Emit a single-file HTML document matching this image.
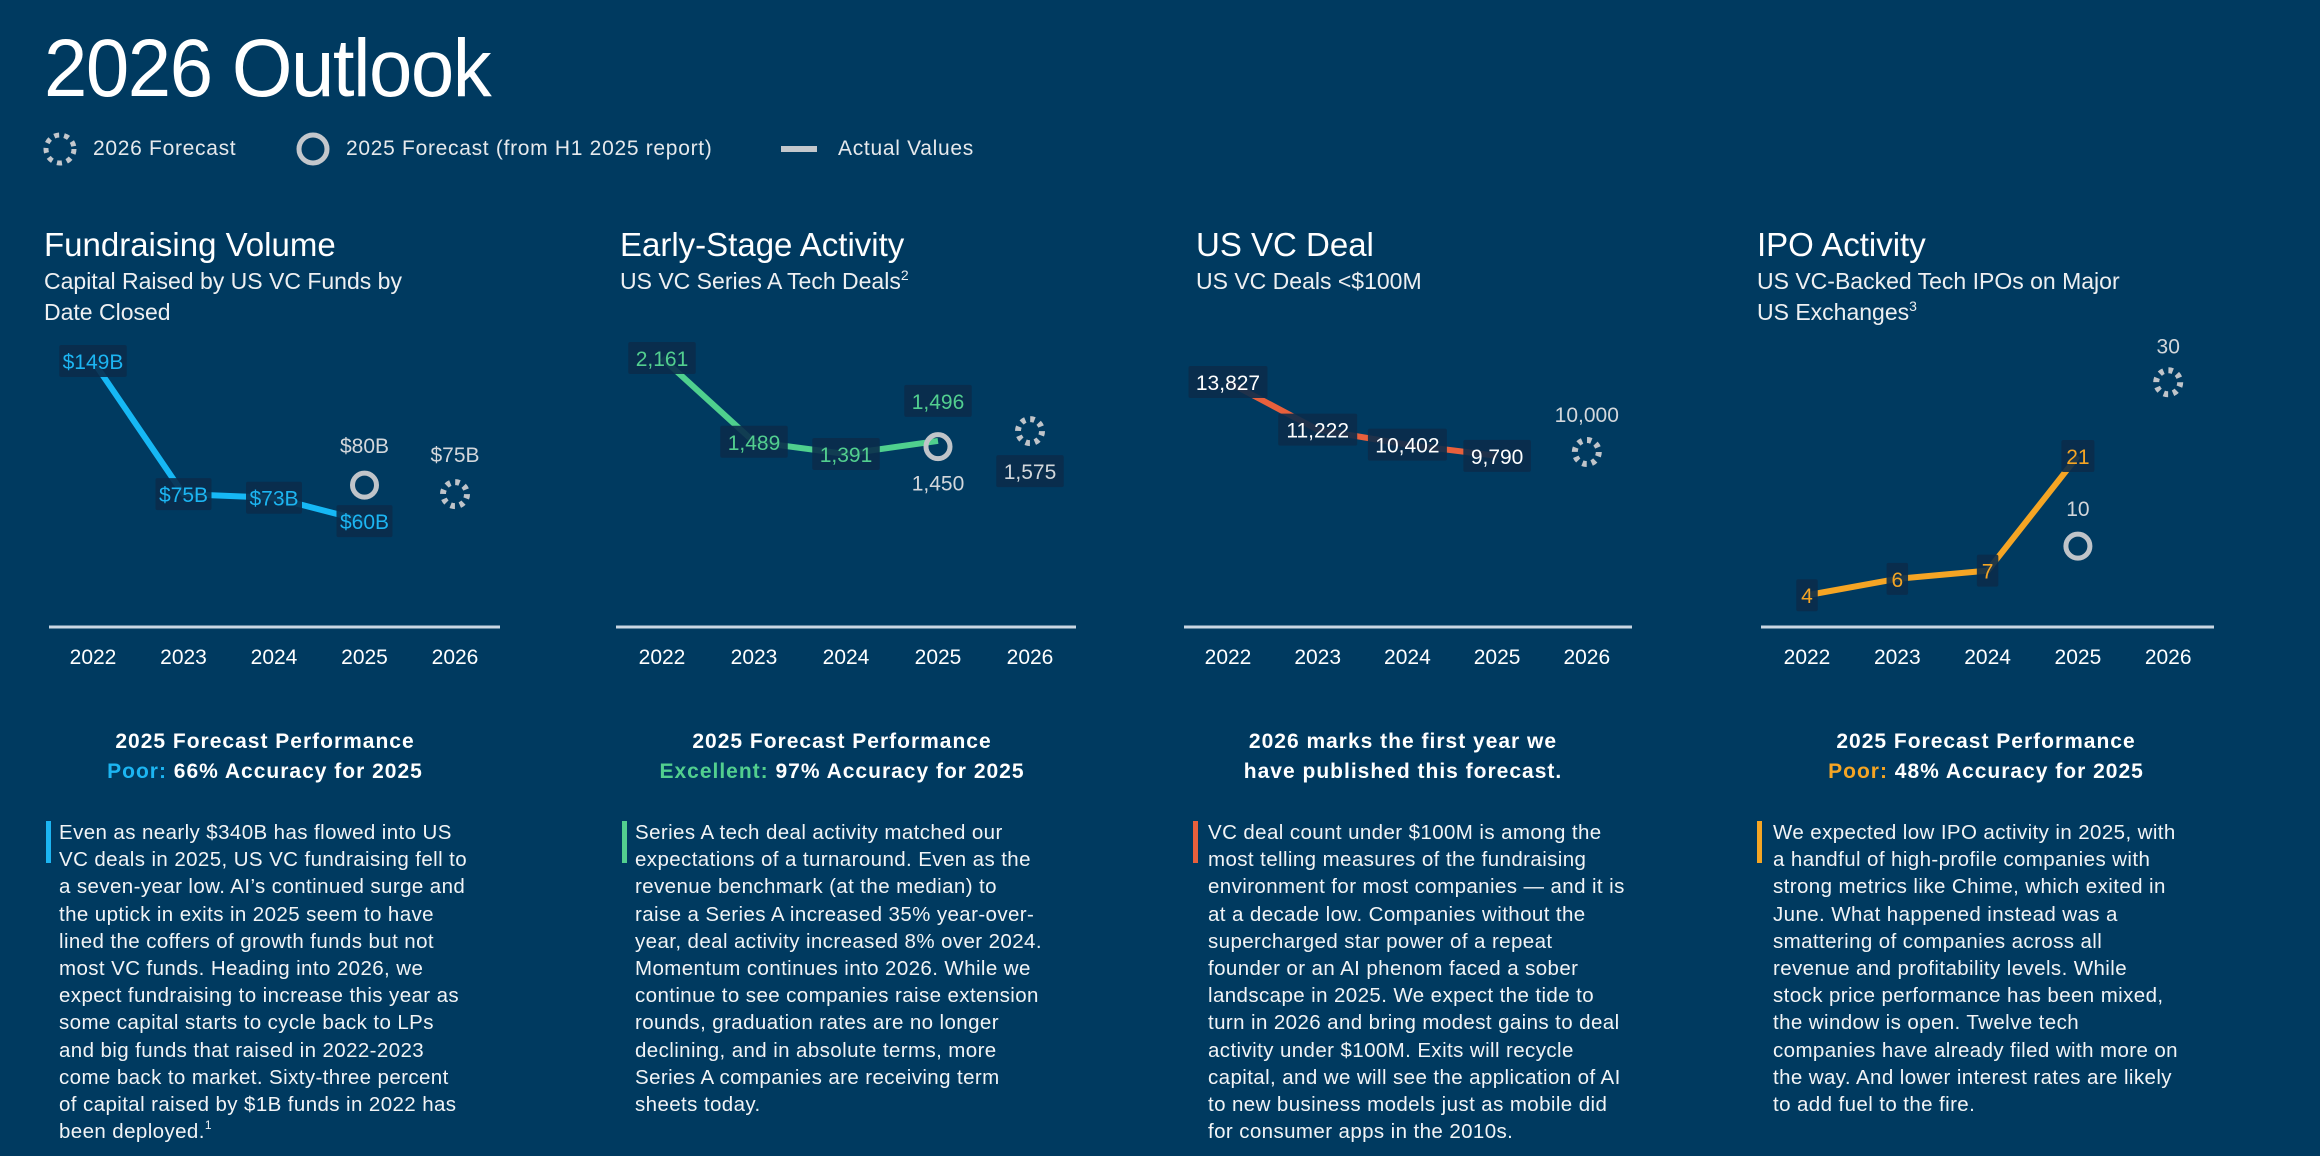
<!DOCTYPE html>
<html><head><meta charset="utf-8">
<style>
html,body{margin:0;padding:0;}
body{width:2320px;height:1156px;background:#003a60;overflow:hidden;position:relative;font-family:"Liberation Sans",sans-serif;color:#fff;}
.abs{position:absolute;white-space:nowrap;}
#title{left:44px;top:22px;font-size:82px;letter-spacing:-1.5px;transform:scaleX(0.95);transform-origin:left top;}
.leg{top:137px;font-size:21px;color:#e6e9ec;letter-spacing:0.7px;}
.ptitle{font-size:33px;top:226px;}
.psub{font-size:23px;line-height:31px;top:266px;color:#eef0f2;}
sup{font-size:14px;line-height:0;vertical-align:0;position:relative;top:-9px;}
.head{top:727px;width:520px;text-align:center;font-weight:bold;font-size:21px;line-height:30px;letter-spacing:1px;}
.para{top:819px;font-size:20.5px;line-height:27.2px;letter-spacing:0.4px;color:#f2f4f6;}
.bar{position:absolute;top:821px;width:5px;height:42px;}
svg{position:absolute;left:0;top:0;}
</style></head><body>
<div class="abs" id="title">2026 Outlook</div>

<svg width="2320" height="1156" id="chart">
  <circle cx="60" cy="149" r="14" fill="none" stroke="#c3c7cc" stroke-width="5" stroke-dasharray="5 5"/>
  <circle cx="313" cy="149" r="14" fill="none" stroke="#c3c7cc" stroke-width="5"/>
  <line x1="781" y1="149" x2="817" y2="149" stroke="#c3c7cc" stroke-width="6"/>
</svg>
<div class="abs leg" style="left:93px">2026 Forecast</div>
<div class="abs leg" style="left:346px">2025 Forecast (from H1 2025 report)</div>
<div class="abs leg" style="left:838px">Actual Values</div>

<div class="abs ptitle" style="left:44px">Fundraising Volume</div>
<div class="abs psub" style="left:44px">Capital Raised by US VC Funds by<br>Date Closed</div>
<div class="abs ptitle" style="left:620px">Early-Stage Activity</div>
<div class="abs psub" style="left:620px">US VC Series A Tech Deals<sup>2</sup></div>
<div class="abs ptitle" style="left:1196px">US VC Deal</div>
<div class="abs psub" style="left:1196px">US VC Deals &lt;$100M</div>
<div class="abs ptitle" style="left:1757px">IPO Activity</div>
<div class="abs psub" style="left:1757px">US VC-Backed Tech IPOs on Major<br>US Exchanges<sup>3</sup></div>

<div class="abs head" style="left:5px">2025 Forecast Performance<br><span style="color:#1cb5f2">Poor:</span> 66% Accuracy for 2025</div>
<div class="abs head" style="left:582px">2025 Forecast Performance<br><span style="color:#52cf8f">Excellent:</span> 97% Accuracy for 2025</div>
<div class="abs head" style="left:1143px">2026 marks the first year we<br>have published this forecast.</div>
<div class="abs head" style="left:1726px">2025 Forecast Performance<br><span style="color:#f5a524">Poor:</span> 48% Accuracy for 2025</div>

<div class="bar" style="left:46px;background:#1cb5f2"></div>
<div class="abs para" style="left:59px">Even as nearly $340B has flowed into US<br>VC deals in 2025, US VC fundraising fell to<br>a seven-year low. AI’s continued surge and<br>the uptick in exits in 2025 seem to have<br>lined the coffers of growth funds but not<br>most VC funds. Heading into 2026, we<br>expect fundraising to increase this year as<br>some capital starts to cycle back to LPs<br>and big funds that raised in 2022-2023<br>come back to market. Sixty-three percent<br>of capital raised by $1B funds in 2022 has<br>been deployed.<sup style="font-size:12px">1</sup></div>
<div class="bar" style="left:622px;background:#52cf8f"></div>
<div class="abs para" style="left:635px">Series A tech deal activity matched our<br>expectations of a turnaround. Even as the<br>revenue benchmark (at the median) to<br>raise a Series A increased 35% year-over-<br>year, deal activity increased 8% over 2024.<br>Momentum continues into 2026. While we<br>continue to see companies raise extension<br>rounds, graduation rates are no longer<br>declining, and in absolute terms, more<br>Series A companies are receiving term<br>sheets today.</div>
<div class="bar" style="left:1193px;background:#e8603c"></div>
<div class="abs para" style="left:1208px">VC deal count under $100M is among the<br>most telling measures of the fundraising<br>environment for most companies — and it is<br>at a decade low. Companies without the<br>supercharged star power of a repeat<br>founder or an AI phenom faced a sober<br>landscape in 2025. We expect the tide to<br>turn in 2026 and bring modest gains to deal<br>activity under $100M. Exits will recycle<br>capital, and we will see the application of AI<br>to new business models just as mobile did<br>for consumer apps in the 2010s.</div>
<div class="bar" style="left:1757px;background:#f5a524"></div>
<div class="abs para" style="left:1773px">We expected low IPO activity in 2025, with<br>a handful of high-profile companies with<br>strong metrics like Chime, which exited in<br>June. What happened instead was a<br>smattering of companies across all<br>revenue and profitability levels. While<br>stock price performance has been mixed,<br>the window is open. Twelve tech<br>companies have already filed with more on<br>the way. And lower interest rates are likely<br>to add fuel to the fire.</div>

<script>
const years = ['2022','2023','2024','2025','2026'];
const fundActual = [149, 75, 73, 60];
const fundLabels = ['$149B','$75B','$73B','$60B'];
const fundFc2025 = 80;
const fundFc2025Label = '$80B';
const fundFc2026 = 75;
const fundFc2026Label = '$75B';

const seriesAActual = [2161, 1489, 1391, 1496];
const seriesALabels = ['2,161','1,489','1,391','1,496'];
const seriesAFc2025 = 1450;
const seriesAFc2025Label = '1,450';
const seriesAFc2026 = 1575;
const seriesAFc2026Label = '1,575';

const dealsActual = [13827, 11222, 10402, 9790];
const dealsLabels = ['13,827','11,222','10,402','9,790'];
const dealsFc2026 = 10000;
const dealsFc2026Label = '10,000';

const ipoActual = [4, 6, 7, 21];
const ipoLabels = ['4','6','7','21'];
const ipoFc2025 = 10;
const ipoFc2025Label = '10';
const ipoFc2026 = 30;
const ipoFc2026Label = '30';

const NS = 'http://www.w3.org/2000/svg';
const svg = document.getElementById('chart');
function mk(tag, attrs, parent){
  const e = document.createElementNS(NS, tag);
  for (const k in attrs) e.setAttribute(k, attrs[k]);
  (parent||svg).appendChild(e);
  return e;
}
function drawChart(cfg){
  const g = mk('g', {});
  
  
  const xs = i => cfg.x0 + i*cfg.step;
  const ys = v => cfg.y0 - (v/cfg.max)*(cfg.y0 - cfg.yTop);
  const ax = mk('line', {x1:cfg.ax1, x2:cfg.ax2, y1:cfg.axisY, y2:cfg.axisY, stroke:'#c9d6e2', 'stroke-width':3}, g);
  
  
  years.forEach((y,i)=>{
    const t = mk('text', {x:xs(i), y:cfg.axisY+37, 'text-anchor':'middle', fill:'#fff', 'font-size':21, 'font-family':'Liberation Sans, sans-serif'}, g);
    t.textContent = y;
    
    
  });
  const pts = cfg.actual.map((v,i)=>xs(i)+','+ys(v)).join(' ');
  const pl = mk('polyline', {points:pts, fill:'none', stroke:cfg.color, 'stroke-width':6, 'stroke-linejoin':'round'}, g);
  
  
  function label(x, y, txt, color, box){
    const w = txt.length*11.5+10;
    if (box){
      const r = mk('rect', {x:x-w/2, y:y-16, width:w, height:32, fill:'#0a2c4b', opacity:0.9, rx:2}, g);
      
      
    }
    const t = mk('text', {x:x, y:y+8, 'text-anchor':'middle', fill:color, 'font-size':21, 'font-family':'Liberation Sans, sans-serif'}, g);
    t.textContent = txt;
    
    
  }
  cfg.actual.forEach((v,i)=>{
    let y = ys(v);
    if (cfg.actualAboveLast && i===cfg.actual.length-1) y -= 40;
    label(xs(i), y, cfg.labels[i], cfg.labelColor, true);
  });
  if (cfg.fc25 !== undefined){
    const c = mk('circle', {cx:xs(3), cy:ys(cfg.fc25), r:12, fill:'none', stroke:'#c0c4c9', 'stroke-width':5}, g);
    
    
    label(xs(3), ys(cfg.fc25)+cfg.fc25Off, cfg.fc25Label, '#d3d7db', cfg.fc25Box);
  }
  const d = mk('circle', {cx:xs(4), cy:ys(cfg.fc26), r:12, fill:'none', stroke:'#c0c4c9', 'stroke-width':6, 'stroke-dasharray':'4.4 5'}, g);
  
  
  label(xs(4), ys(cfg.fc26)+cfg.fc26Off, cfg.fc26Label, '#d3d7db', cfg.fc26Box);
}
drawChart({name:'fundraising-chart', x0:93, step:90.5, y0:629, yTop:361, max:149, axisY:627, ax1:49, ax2:500,
  actual:fundActual, labels:fundLabels, color:'#16b8f5', labelColor:'#1cb5f2',
  fc25:fundFc2025, fc25Label:fundFc2025Label, fc25Off:-40, fc25Box:false,
  fc26:fundFc2026, fc26Label:fundFc2026Label, fc26Off:-40, fc26Box:false});
drawChart({name:'early-stage-chart', x0:662, step:92, y0:627.5, yTop:358, max:2161, axisY:627, ax1:616, ax2:1076,
  actual:seriesAActual, labels:seriesALabels, color:'#4fd08e', labelColor:'#52cf8f', actualAboveLast:true,
  fc25:seriesAFc2025, fc25Label:seriesAFc2025Label, fc25Off:36, fc25Box:false,
  fc26:seriesAFc2026, fc26Label:seriesAFc2026Label, fc26Off:40, fc26Box:true});
drawChart({name:'us-vc-deal-chart', x0:1228, step:89.7, y0:635, yTop:382, max:13827, axisY:627, ax1:1184, ax2:1632,
  actual:dealsActual, labels:dealsLabels, color:'#e8603c', labelColor:'#ffffff',
  fc26:dealsFc2026, fc26Label:dealsFc2026Label, fc26Off:-38, fc26Box:false});
drawChart({name:'ipo-chart', x0:1807, step:90.3, y0:628, yTop:456, max:21, axisY:627, ax1:1761, ax2:2214,
  actual:ipoActual, labels:ipoLabels, color:'#f5a524', labelColor:'#f5a524',
  fc25:ipoFc2025, fc25Label:ipoFc2025Label, fc25Off:-38, fc25Box:false,
  fc26:ipoFc2026, fc26Label:ipoFc2026Label, fc26Off:-37, fc26Box:false});
</script>
</body></html>
